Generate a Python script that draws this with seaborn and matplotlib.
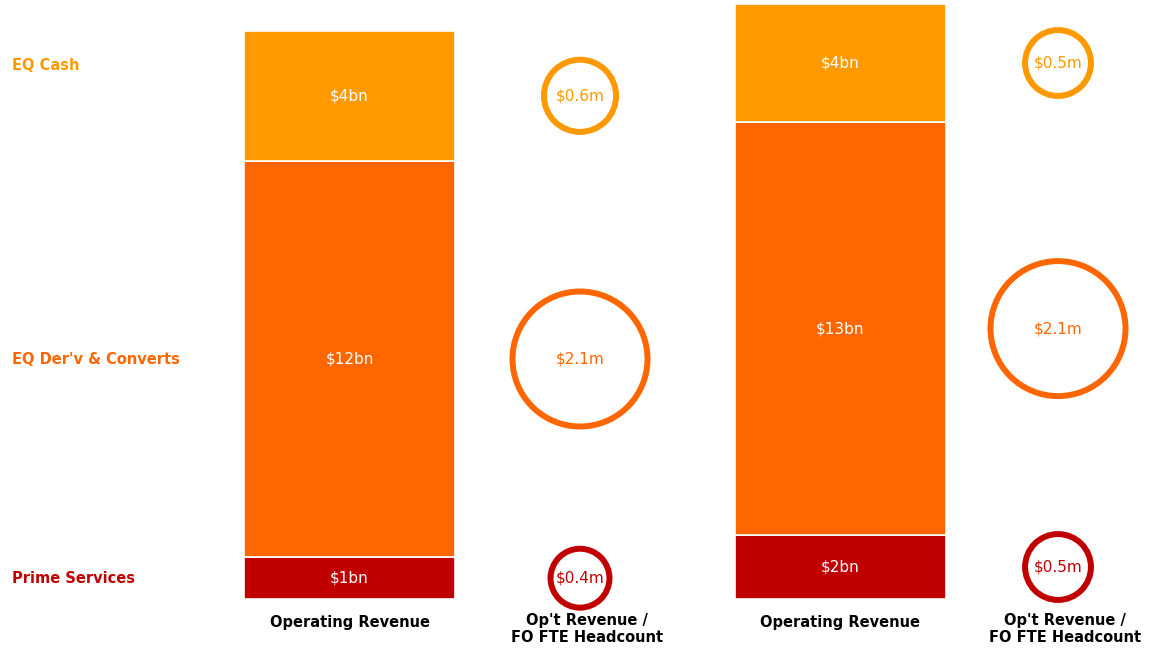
import numpy as np
import pandas as pd
import matplotlib
matplotlib.use("Agg")
import matplotlib.pyplot as plt
import seaborn as sns

# data
segments = ["Prime Services", "EQ Der'v & Converts", "EQ Cash"]
revenue_bn = {
    "Prime Services": [1.3, 2.0],
    "EQ Der'v & Converts": [12.4, 12.9],
    "EQ Cash": [4.05, 3.7],
}
revenue_labels = {
    "Prime Services": ["$1bn", "$2bn"],
    "EQ Der'v & Converts": ["$12bn", "$13bn"],
    "EQ Cash": ["$4bn", "$4bn"],
}
per_fte_m = {
    "Prime Services": [0.4, 0.5],
    "EQ Der'v & Converts": [2.1, 2.1],
    "EQ Cash": [0.6, 0.5],
}
per_fte_labels = {
    "Prime Services": ["$0.4m", "$0.5m"],
    "EQ Der'v & Converts": ["$2.1m", "$2.1m"],
    "EQ Cash": ["$0.6m", "$0.5m"],
}
colors = {
    "Prime Services": "#C00000",
    "EQ Der'v & Converts": "#FF6600",
    "EQ Cash": "#FF9900",
}

# layout (x in figure pixels, y in $bn)
bar_x = [349.5, 840]
circle_x = [580, 1058]
bar_w = 211
px_per_bn = 32

sns.set_theme(style="white")
plt.rcParams["font.family"] = ["DejaVu Sans"]

fig = plt.figure(figsize=(11.49, 6.5), dpi=100)
ax = fig.add_axes([0, 0, 1, 1])
ax.set_xlim(0, 1149)
ax.set_ylim(-51 / px_per_bn, 599 / px_per_bn)
ax.axis("off")

# stacked bars
bottoms = np.zeros(2)
mids = {}
for seg in segments:
    vals = np.array(revenue_bn[seg])
    ax.bar(bar_x, vals, bottom=bottoms, width=bar_w, color=colors[seg],
           edgecolor="white", linewidth=1.2)
    mids[seg] = bottoms + vals / 2
    for i in range(2):
        ax.text(bar_x[i], mids[seg][i], revenue_labels[seg][i], color="white",
                ha="center", va="center", fontsize=11)
    bottoms = bottoms + vals

# rings, area proportional to revenue per FTE
rows = []
for seg in segments:
    for i in range(2):
        rows.append({"x": circle_x[i], "y": mids[seg][i], "segment": seg,
                     "value": per_fte_m[seg][i]})
df = pd.DataFrame(rows)
max_s = (135 * 0.72) ** 2
sns.scatterplot(data=df, x="x", y="y", hue="segment", palette=colors,
                size="value", sizes=(0, max_s), size_norm=(0, 2.1),
                legend=False, ax=ax, zorder=3)
pts = ax.collections[-1]
fc = pts.get_facecolors()
pts.set_edgecolors(fc)
pts.set_facecolors("none")
pts.set_linewidths(4.3)

for _, r in df.iterrows():
    i = circle_x.index(r["x"])
    ax.text(r["x"], r["y"], per_fte_labels[r["segment"]][i],
            color=colors[r["segment"]], ha="center", va="center", fontsize=11, zorder=4)

# segment labels on the left
label_y = {
    "EQ Cash": mids["EQ Cash"][1] - 0.08,
    "EQ Der'v & Converts": mids["EQ Der'v & Converts"][0],
    "Prime Services": mids["Prime Services"][0],
}
for seg in segments:
    ax.text(12, label_y[seg], seg, color=colors[seg], ha="left", va="center",
            fontsize=10.5, fontweight="bold")

# bottom category labels
for i in range(2):
    ax.text(bar_x[i], -23 / px_per_bn, "Operating Revenue", ha="center", va="center",
            fontsize=10.5, fontweight="bold", color="black")
    ax.text(circle_x[i] + 7, -30 / px_per_bn, "Op't Revenue /\nFO FTE Headcount",
            ha="center", va="center", fontsize=10.5, fontweight="bold",
            color="black", linespacing=1.25)

fig.savefig("out.png", dpi=100)
